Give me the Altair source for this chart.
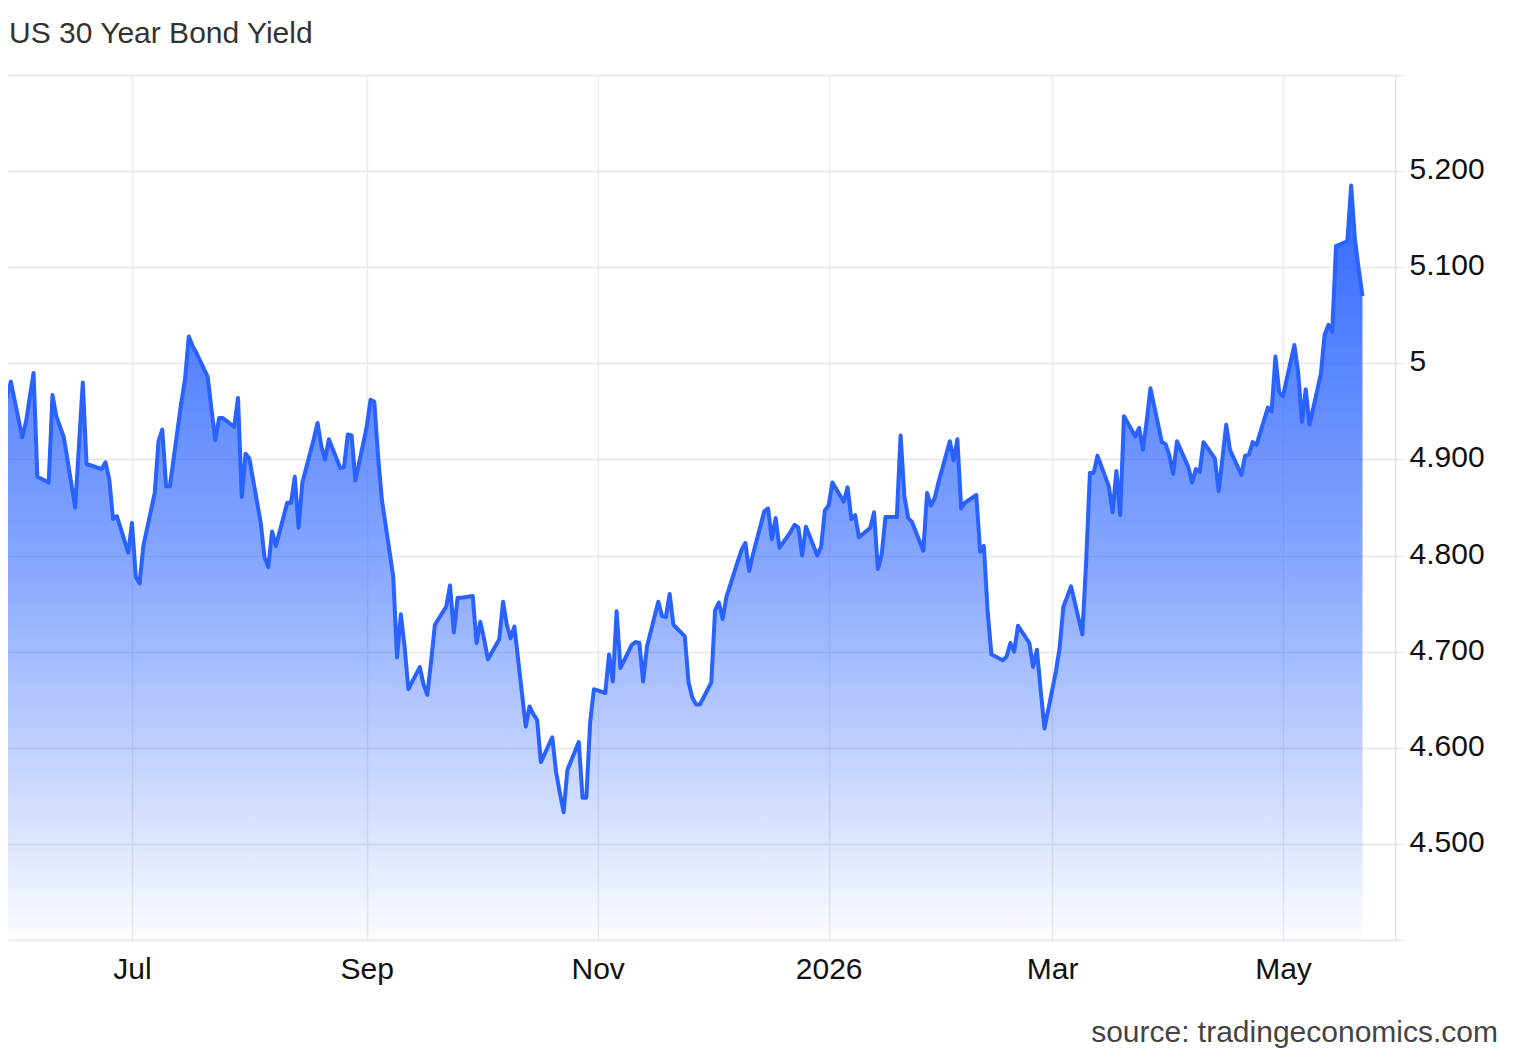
import altair as alt
import pandas as pd

FONT = "Arial, Liberation Sans, sans-serif"

title_text = "US 30 Year Bond Yield"
source_text = "source: tradingeconomics.com"

# daily (weekday) closes, last one on 2026-05-22
last_date = "2026-05-22"
yields = [
    5.000, 4.965, 4.981, 4.923, 4.939, 4.965, 4.990, 4.882, 4.876, 4.967,
    4.945, 4.934, 4.923, 4.850, 4.915, 4.980, 4.895, 4.894, 4.890, 4.897,
    4.879, 4.838, 4.841, 4.803, 4.834, 4.778, 4.771, 4.810, 4.865, 4.919,
    4.931, 4.872, 4.872, 4.959, 4.983, 5.028, 5.018, 5.011, 4.986, 4.952,
    4.920, 4.943, 4.943, 4.934, 4.964, 4.861, 4.906, 4.901, 4.834, 4.798,
    4.788, 4.825, 4.810, 4.855, 4.855, 4.882, 4.829, 4.876, 4.921, 4.938,
    4.914, 4.900, 4.921, 4.891, 4.892, 4.926, 4.925, 4.878, 4.934, 4.962,
    4.960, 4.903, 4.858, 4.778, 4.694, 4.739, 4.705, 4.661, 4.684, 4.666,
    4.655, 4.690, 4.728, 4.747, 4.769, 4.720, 4.756, 4.756, 4.758, 4.709,
    4.731, 4.713, 4.692, 4.713, 4.752, 4.728, 4.714, 4.726, 4.622, 4.643,
    4.635, 4.629, 4.585, 4.611, 4.575, 4.553, 4.533, 4.577, 4.606, 4.548,
    4.548, 4.626, 4.661, 4.657, 4.697, 4.669, 4.742, 4.683, 4.707, 4.710,
    4.709, 4.669, 4.705, 4.752, 4.737, 4.736, 4.760, 4.728, 4.716, 4.668,
    4.652, 4.645, 4.645, 4.668, 4.743, 4.751, 4.734, 4.757, 4.794, 4.806,
    4.813, 4.784, 4.801, 4.846, 4.849, 4.817, 4.839, 4.808, 4.825, 4.832,
    4.829, 4.800, 4.830, 4.800, 4.809, 4.847, 4.852, 4.876, 4.856, 4.871,
    4.838, 4.842, 4.819, 4.829, 4.845, 4.786, 4.801, 4.840, 4.840, 4.925,
    4.862, 4.839, 4.835, 4.805, 4.865, 4.852, 4.860, 4.876, 4.919, 4.899,
    4.921, 4.849, 4.855, 4.863, 4.804, 4.810, 4.741, 4.697, 4.691, 4.695,
    4.709, 4.700, 4.727, 4.709, 4.684, 4.702, 4.660, 4.620, 4.679, 4.704,
    4.747, 4.757, 4.768, 4.718, 4.793, 4.886, 4.886, 4.904, 4.872, 4.845,
    4.888, 4.842, 4.945, 4.924, 4.933, 4.910, 4.940, 4.974, 4.918, 4.916,
    4.904, 4.885, 4.919, 4.892, 4.876, 4.890, 4.887, 4.918, 4.901, 4.867,
    4.901, 4.936, 4.910, 4.884, 4.904, 4.905, 4.918, 4.915, 4.954, 4.950,
    5.007, 4.970, 4.966, 5.019, 4.991, 4.939, 4.973, 4.936, 4.989, 5.030,
    5.040, 5.033, 5.122, 5.127, 5.185, 5.129, 5.098, 5.070,
]

tick_dates = ["2025-07-01", "2025-09-01", "2025-11-01", "2026-01-01", "2026-03-01", "2026-05-01"]
x_domain = ["2025-05-29T06:00:00", "2026-05-30T14:00:00"]
y_ticks = [4.4, 4.5, 4.6, 4.7, 4.8, 4.9, 5.0, 5.1, 5.2, 5.3]
y_domain = [4.4, 5.3]

dates = pd.bdate_range(end=last_date, periods=len(yields))
df = pd.DataFrame({"date": dates, "yield": yields})


def dt(s):
    t = pd.Timestamp(s)
    return alt.DateTime(year=t.year, month=t.month, date=t.day, hours=t.hour, minutes=t.minute)


x_enc = alt.X(
    "date:T",
    scale=alt.Scale(domain=[dt(s) for s in x_domain]),
    axis=alt.Axis(
        values=[dt(s) for s in tick_dates],
        labelExpr="month(datum.value) == 0 ? timeFormat(datum.value, '%Y') : timeFormat(datum.value, '%b')",
        title=None,
        grid=True,
        gridColor="#e8ebf3",
        gridWidth=1.5,
        domain=False,
        ticks=False,
        labelFont=FONT,
        labelFontSize=30,
        labelColor="#111111",
        labelPadding=14,
        labelFlush=False,
        labelOverlap=False,
    ),
)

y_enc = alt.Y(
    "yield:Q",
    scale=alt.Scale(domain=y_domain, nice=False, zero=False),
    axis=alt.Axis(
        orient="right",
        values=y_ticks,
        labelExpr="datum.value < 4.45 || datum.value > 5.25 ? '' : (abs(datum.value - 5) < 0.001 ? '5' : format(datum.value, '.3f'))",
        title=None,
        grid=True,
        gridColor="#e6e6e6",
        gridWidth=1.5,
        domain=True,
        domainColor="#e3e3e3",
        domainWidth=1.5,
        tickColor="#e6e6e6",
        tickSize=9,
        tickWidth=1.5,
        labelFont=FONT,
        labelFontSize=30,
        labelColor="#111111",
        labelPadding=5,
        labelBaseline="middle",
        labelOffset=-1.5,
        labelFlush=False,
        labelOverlap=False,
    ),
)

base = alt.Chart(df)

area = base.mark_area(
    clip=True,
    fill=alt.Gradient(
        gradient="linear",
        x1=0, x2=0, y1=0, y2=1,
        stops=[
            alt.GradientStop(color="rgba(41,98,255,0.97)", offset=0),
            alt.GradientStop(color="rgba(41,98,255,0.56)", offset=0.5),
            alt.GradientStop(color="rgba(41,98,255,0.02)", offset=1),
        ],
    ),
).encode(x=x_enc, y=y_enc, y2=alt.datum(y_domain[0]))

line = base.mark_line(
    clip=True, color="#2962ff", strokeWidth=4, strokeJoin="round"
).encode(x=x_enc, y=y_enc)

title = alt.Chart(pd.DataFrame({"t": [title_text]})).mark_text(
    align="left", baseline="alphabetic", font=FONT, fontSize=30, color="#333333"
).encode(text="t:N", x=alt.value(1), y=alt.value(-32))

source = alt.Chart(pd.DataFrame({"t": [source_text]})).mark_text(
    align="right", baseline="alphabetic", font=FONT, fontSize=30, color="#444444"
).encode(text="t:N", x=alt.value(1490), y=alt.value(967))

chart = alt.layer(area, line, title, source).properties(
    width=1387,
    height=865,
    autosize=alt.AutoSizeParams(type="none"),
    padding={"left": 0, "top": 67, "right": 104, "bottom": 108},
).configure_view(stroke=None)

chart.save("out.html", embed_options={"renderer": "svg", "actions": False})
